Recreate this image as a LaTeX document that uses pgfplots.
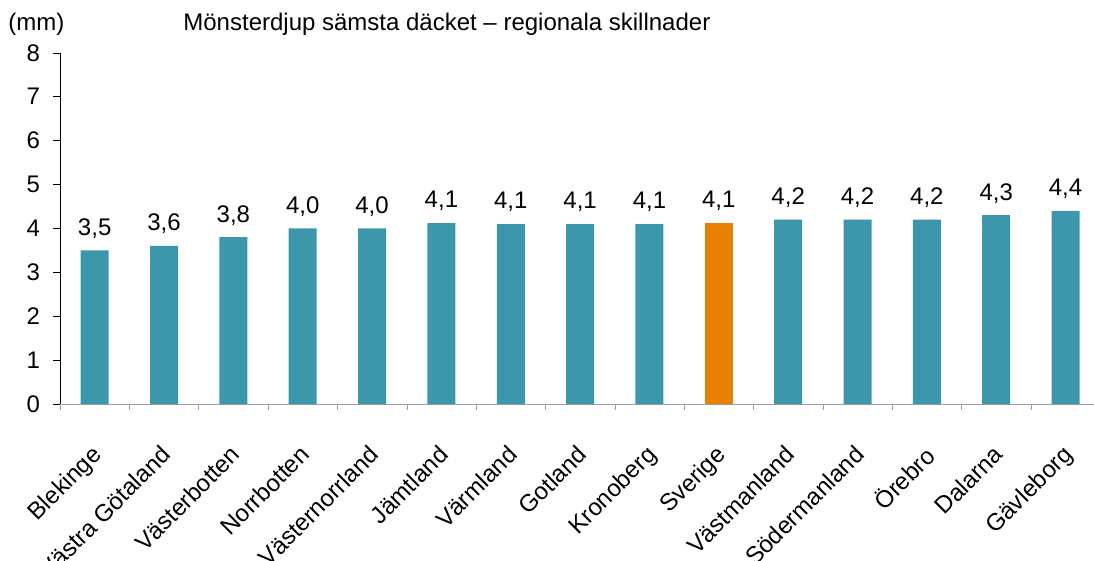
\documentclass[border=0pt]{standalone}
\usepackage{pgfplots}
\pgfplotsset{compat=1.18}
\usepackage{fontspec}
\setmainfont{Liberation Sans}
\definecolor{teal1}{RGB}{60,150,172}
\definecolor{orange1}{RGB}{232,128,0}
\definecolor{axgray}{RGB}{160,160,160}
\begin{document}
\begin{tikzpicture}
\useasboundingbox (-30pt,-78.5pt) rectangle (517pt,202pt);
\begin{axis}[
  at={(0,0)}, anchor=south west,
  scale only axis, width=517pt, height=175.6pt,
  xmin=-0.5, xmax=14.41, ymin=0, ymax=8,
  ytick={0,1,...,8},
  xtick={0,...,14},
  xticklabels={Blekinge,Västra Götaland,Västerbotten,Norrbotten,Västernorrland,Jämtland,Värmland,Gotland,Kronoberg,Sverige,Västmanland,Södermanland,Örebro,Dalarna,Gävleborg},
  minor xtick={-0.5,0.5,...,13.5},
  axis x line*=bottom, axis y line*=left,
  x axis line style={axgray,-},
  y axis line style={black,-},
  tick align=outside,
  major tick length=3.5pt,
  minor tick length=3pt,
  xtick style={draw=none},
  minor x tick style={draw=axgray},
  ytick style={black},
  every tick label/.append style={font=\fontsize{12}{14}\selectfont},
  /pgf/number format/assume math mode=true,
  xticklabel style={rotate=45, anchor=north east, inner sep=1pt, yshift=-9pt, xshift=-12pt},
  yticklabel style={xshift=-3pt},
  ybar, bar width=14pt, bar shift=0pt,
  nodes near coords,
  nodes near coords style={yshift=2.5pt, font=\fontsize{12}{14}\selectfont, /pgf/number format/.cd, fixed, fixed zerofill, precision=1, use comma, assume math mode=true},
  clip=false,
]
\addplot[fill=teal1, draw=none] coordinates {
 (0,3.5) (1,3.6) (2,3.8) (3,4.0) (4,4.0) (5,4.12) (6,4.1) (7,4.1) (8,4.1)
 (10,4.2) (11,4.2) (12,4.2) (13,4.3) (14,4.4)};
\addplot[fill=orange1, draw=none] coordinates {(9,4.13)};
\end{axis}
\node[anchor=base west, font=\fontsize{12}{14}\selectfont, inner sep=0] at (-26pt,186.5pt) {(mm)};
\node[anchor=base west, font=\fontsize{12}{14}\selectfont, inner sep=0] at (61.5pt,186.5pt) {Mönsterdjup sämsta däcket – regionala skillnader};
\end{tikzpicture}
\end{document}
